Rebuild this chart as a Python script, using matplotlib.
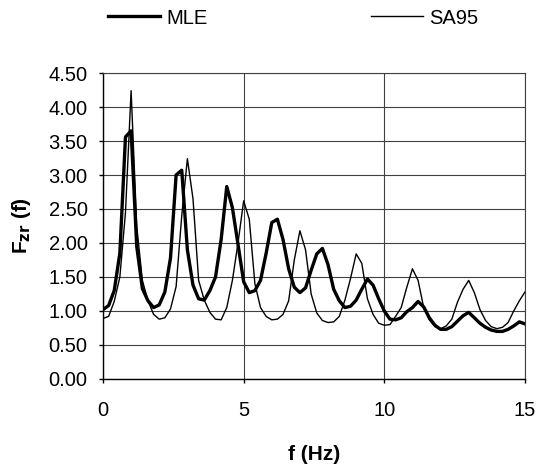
import matplotlib
matplotlib.use("Agg")
import matplotlib.pyplot as plt
from matplotlib.ticker import FormatStrFormatter, MultipleLocator


# frequency axis (Hz), sampled every 0.2 Hz
freq = [round(0.2 * i, 1) for i in range(76)]

mle = [
    1.02, 1.08, 1.30, 1.85, 3.56, 3.65, 1.95, 1.33, 1.15, 1.05,
    1.09, 1.28, 1.78, 3.00, 3.07, 1.90, 1.38, 1.18, 1.16, 1.30,
    1.50, 2.05, 2.83, 2.52, 1.98, 1.43, 1.27, 1.30, 1.45, 1.85,
    2.30, 2.35, 2.05, 1.62, 1.35, 1.27, 1.34, 1.60, 1.84, 1.92,
    1.68, 1.32, 1.15, 1.05, 1.07, 1.16, 1.32, 1.47, 1.38, 1.18,
    1.00, 0.88, 0.87, 0.90, 0.99, 1.05, 1.14, 1.06, 0.90, 0.79,
    0.73, 0.73, 0.77, 0.85, 0.93, 0.98, 0.90, 0.82, 0.76, 0.72,
    0.70, 0.70, 0.73, 0.78, 0.84, 0.81,
]

sa95 = [
    0.89, 0.92, 1.14, 1.50, 2.45, 4.24, 2.25, 1.45, 1.15, 0.95,
    0.88, 0.90, 1.03, 1.36, 2.40, 3.24, 2.65, 1.45, 1.16, 0.98,
    0.88, 0.87, 1.05, 1.45, 2.00, 2.62, 2.35, 1.40, 1.05, 0.92,
    0.87, 0.88, 0.95, 1.15, 1.75, 2.18, 1.90, 1.25, 0.97, 0.86,
    0.83, 0.84, 0.92, 1.16, 1.48, 1.84, 1.70, 1.18, 0.95, 0.82,
    0.79, 0.80, 0.92, 1.05, 1.35, 1.62, 1.45, 1.05, 0.87, 0.77,
    0.74, 0.78, 0.88, 1.13, 1.32, 1.45, 1.27, 1.02, 0.86, 0.77,
    0.74, 0.76, 0.83, 1.00, 1.15, 1.28,
]

plt.rcParams["font.family"] = ["Liberation Sans", "DejaVu Sans"]

fig = plt.figure(figsize=(5.38, 4.68), dpi=100)
ax = fig.add_axes([0.1914, 0.1902, 0.7844, 0.6538])

ax.plot(freq, mle, color="black", linewidth=2.4, label="MLE")
ax.plot(freq, sa95, color="black", linewidth=1.0, label="SA95")

ax.set_xlim(0, 15)
ax.set_ylim(0, 4.5)
ax.xaxis.set_major_locator(MultipleLocator(5))
ax.yaxis.set_major_locator(MultipleLocator(0.5))
ax.yaxis.set_major_formatter(FormatStrFormatter("%.2f"))

ax.grid(True, color="#404040", linewidth=0.8)
ax.set_axisbelow(True)
for side in ["top", "right"]:
    ax.spines[side].set_color("#404040")
    ax.spines[side].set_linewidth(0.8)
for side in ["left", "bottom"]:
    ax.spines[side].set_color("black")
    ax.spines[side].set_linewidth(1.0)

ax.tick_params(direction="out", length=3, width=1, labelsize=14.5)
ax.tick_params(axis="y", pad=8)
ax.tick_params(axis="x", pad=13)

# axis titles placed at the reference's positions
ax.set_xlabel("f (Hz)", fontsize=15, fontweight="bold", va="center")
ax.xaxis.set_label_coords(0.5, -0.248)
ax.set_ylabel(r"F$_{\mathbf{zr}}$ (f)", fontsize=15, fontweight="bold", va="center")
ax.yaxis.set_label_coords(-0.194, 0.5)

fig.legend(
    loc="center left",
    bbox_to_anchor=(108 / 538, 1 - 18 / 468),
    ncol=2,
    frameon=False,
    fontsize=14.5,
    borderpad=0,
    borderaxespad=0,
    handlelength=2.6,
    handletextpad=0.3,
    columnspacing=8.1,
)

fig.savefig("out.png", dpi=100)
